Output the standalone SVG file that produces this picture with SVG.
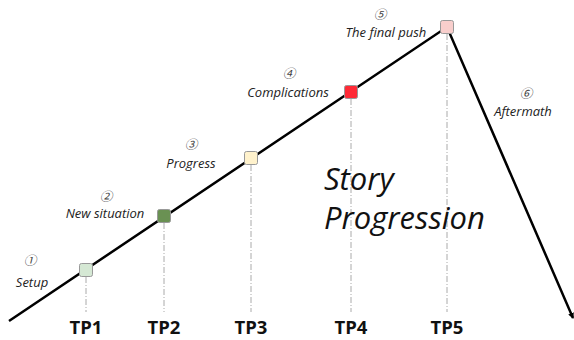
<svg xmlns="http://www.w3.org/2000/svg" width="574" height="340" viewBox="0 0 574 340">
<style>
.lbl{font-family:"Open Sans","Liberation Sans","Noto Sans CJK SC",sans-serif;font-style:italic;font-size:13px;fill:#222}
.num{font-family:"Noto Sans CJK SC","DejaVu Sans",sans-serif;font-style:italic;font-size:12.5px;fill:#444}
.tp{font-family:"Open Sans","Liberation Sans",sans-serif;font-weight:bold;font-size:18.5px;fill:#111}
.big{font-family:"Open Sans","Liberation Sans",sans-serif;font-style:italic;font-size:31px;fill:#111}
.guide{stroke:#aaa;stroke-width:1;stroke-dasharray:6,2,1,2;fill:none}
.node{stroke:#999;stroke-width:1}
</style>
<defs>
<marker id="ah" markerWidth="6" markerHeight="6" refX="5" refY="3" orient="auto" markerUnits="userSpaceOnUse">
<path d="M0,0 L6,3 L0,6 Z" fill="#000"/>
</marker>
</defs>
<g id="connectors">
<line class="guide" x1="86" y1="277" x2="86" y2="312"/>
<line class="guide" x1="164" y1="223" x2="164" y2="312"/>
<line class="guide" x1="251" y1="165" x2="251" y2="312"/>
<line class="guide" x1="351" y1="99" x2="351" y2="312"/>
<line class="guide" x1="447" y1="34" x2="447" y2="312"/>
<polyline points="9,321 447,27 573,318" fill="none" stroke="#000" stroke-width="2.5" marker-end="url(#ah)"/>
</g>
<g id="story"><text class="big" x="324" y="190">Story</text><text class="big" x="324" y="229">Progression</text></g>
<g id="tp1"><rect class="node" x="79.5" y="263.5" width="13" height="13" rx="2" fill="#d5e8d4"/><text class="num" x="30" y="265" text-anchor="middle">①</text><text class="lbl" x="32" y="287" text-anchor="middle">Setup</text><text class="tp" x="86" y="334" text-anchor="middle">TP1</text></g>
<g id="tp2"><rect class="node" x="157.5" y="209.5" width="13" height="13" rx="2" fill="#6a9153"/><text class="num" x="106" y="201" text-anchor="middle">②</text><text class="lbl" x="105" y="218" text-anchor="middle">New situation</text><text class="tp" x="164" y="334" text-anchor="middle">TP2</text></g>
<g id="tp3"><rect class="node" x="244.5" y="151.5" width="13" height="13" rx="2" fill="#fff2cc"/><text class="num" x="191" y="149" text-anchor="middle">③</text><text class="lbl" x="191" y="168" text-anchor="middle">Progress</text><text class="tp" x="251" y="334" text-anchor="middle">TP3</text></g>
<g id="tp4"><rect class="node" x="344.5" y="85.5" width="13" height="13" rx="2" fill="#ff2a36"/><text class="num" x="289" y="78" text-anchor="middle">④</text><text class="lbl" x="288" y="97" text-anchor="middle">Complications</text><text class="tp" x="351" y="334" text-anchor="middle">TP4</text></g>
<g id="tp5"><rect class="node" x="440.5" y="20.5" width="13" height="13" rx="2" fill="#f8cecc"/><text class="num" x="380" y="19" text-anchor="middle">⑤</text><text class="lbl" x="386" y="37" text-anchor="middle">The final push</text><text class="tp" x="447" y="334" text-anchor="middle">TP5</text></g>
<g id="aftermath"><text class="num" x="526" y="98" text-anchor="middle">⑥</text><text class="lbl" x="523" y="116" text-anchor="middle">Aftermath</text></g>
</svg>
